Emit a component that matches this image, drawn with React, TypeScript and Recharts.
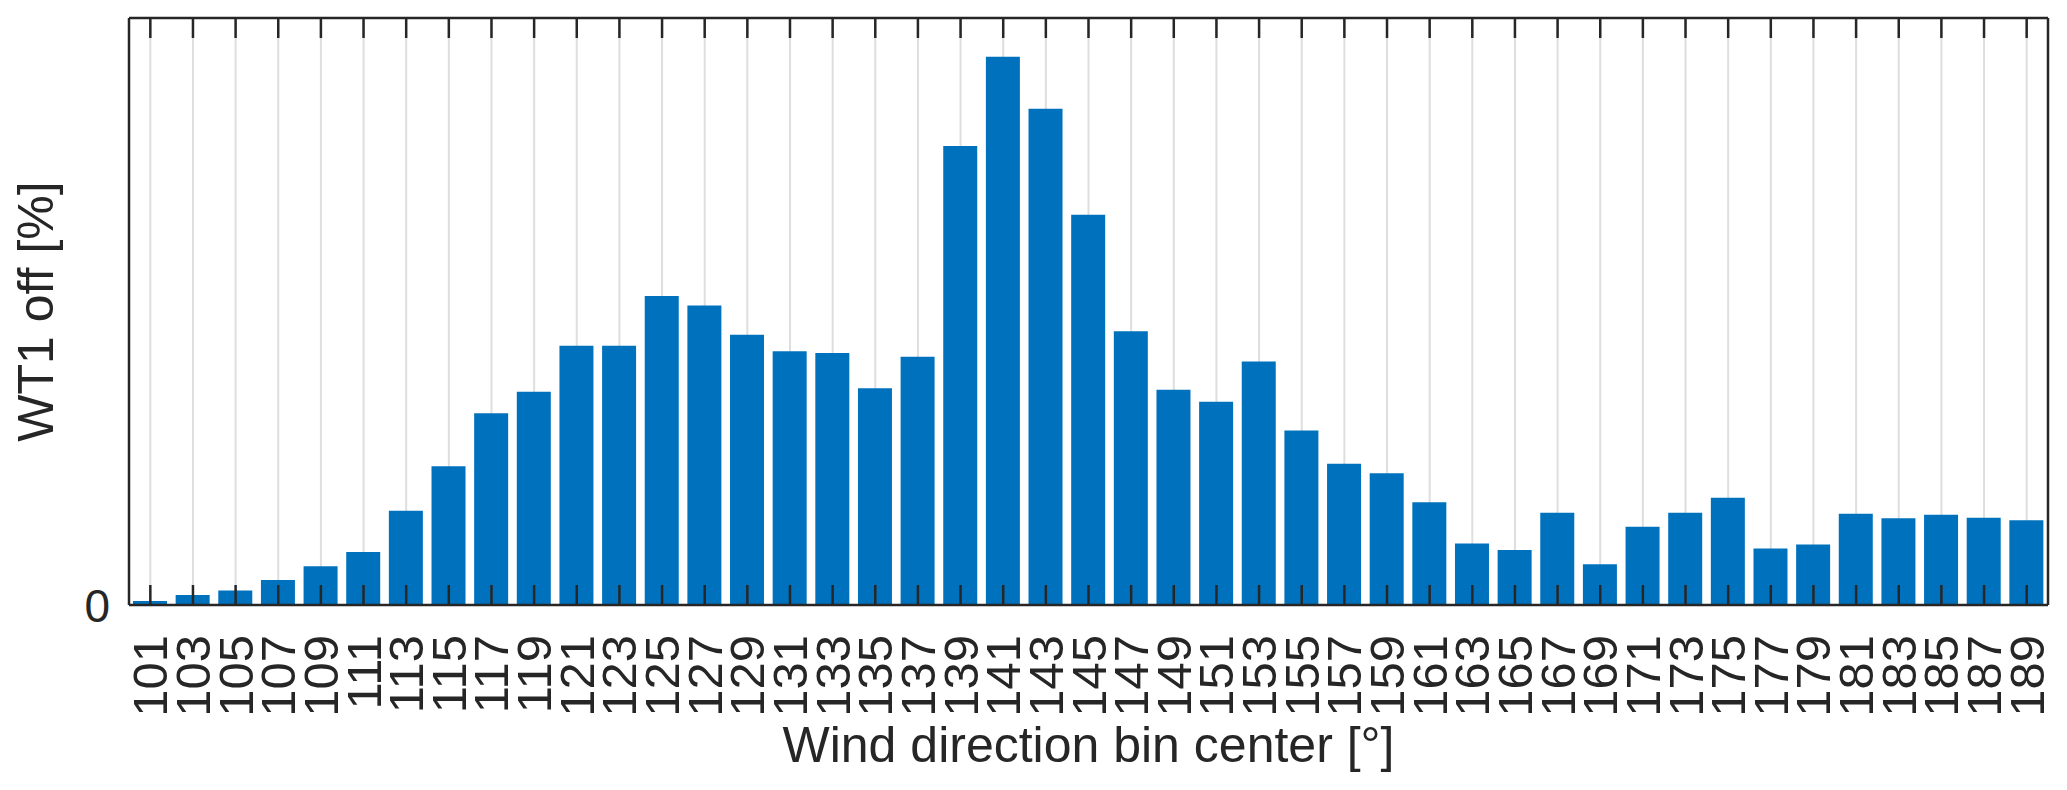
import React from "react";
import { Bar, BarChart, CartesianGrid, Label, XAxis, YAxis } from "recharts";

const windDirectionBins = [
  "101", "103", "105", "107", "109", "111", "113", "115", "117", "119",
  "121", "123", "125", "127", "129", "131", "133", "135", "137", "139",
  "141", "143", "145", "147", "149", "151", "153", "155", "157", "159",
  "161", "163", "165", "167", "169", "171", "173", "175", "177", "179",
  "181", "183", "185", "187", "189",
];

const wt1OffPercent = [
  0.03, 0.076, 0.11, 0.19, 0.294, 0.4, 0.713, 1.049, 1.45, 1.613,
  1.96, 1.96, 2.338, 2.266, 2.044, 1.919, 1.907, 1.64, 1.877, 3.471,
  4.146, 3.753, 2.952, 2.071, 1.629, 1.537, 1.842, 1.32, 1.068, 0.996,
  0.778, 0.465, 0.416, 0.698, 0.309, 0.591, 0.698, 0.812, 0.427, 0.458,
  0.69, 0.656, 0.683, 0.66, 0.641,
];

const yTicks = [0];
const yDomain = [0, 4.44];

const data = windDirectionBins.map((bin, i) => ({ bin, value: wt1OffPercent[i] }));

const INK = "#262626";
const FONT = '"Liberation Sans", Arial, Helvetica, sans-serif';

function BottomTick(props: any) {
  const { x, y, payload } = props;
  return (
    <g>
      <line x1={x} y1={y} x2={x} y2={y - 20} stroke={INK} strokeWidth={2.5} />
      <text
        transform={`translate(${x + 17},${y + 30}) rotate(-90)`}
        textAnchor="end"
        fontSize={49}
        fill={INK}
        fontFamily={FONT}
      >
        {payload.value}
      </text>
    </g>
  );
}

function TopTick(props: any) {
  const { x, y } = props;
  return <line x1={x} y1={y} x2={x} y2={y + 20} stroke={INK} strokeWidth={2.5} />;
}

function LeftTick(props: any) {
  const { x, y, payload } = props;
  return (
    <text x={x - 19} y={y + 17} textAnchor="end" fontSize={46} fill={INK} fontFamily={FONT}>
      {payload.value}
    </text>
  );
}

export default function App() {
  return (
    <div
      style={{
        position: "absolute",
        left: 0,
        top: 0,
        width: 2067,
        height: 790,
        background: "#fff",
        fontFamily: FONT,
      }}
    >
      <BarChart
        width={2067}
        height={790}
        data={data}
        margin={{ top: 17, right: 18, bottom: 0, left: 0 }}
        barCategoryGap={0}
      >
        <CartesianGrid vertical horizontal={false} stroke="#dedede" strokeWidth={2} />
        <XAxis
          dataKey="bin"
          height={185}
          interval={0}
          tickLine={false}
          tickSize={0}
          tickMargin={0}
          axisLine={{ stroke: INK, strokeWidth: 2.5 }}
          tick={<BottomTick />}
        >
          <Label
            content={({ viewBox }: any) => (
              <text
                x={viewBox.x + viewBox.width / 2}
                y={viewBox.y + 157}
                textAnchor="middle"
                fontSize={50}
                fill={INK}
                fontFamily={FONT}
              >
                Wind direction bin center [°]
              </text>
            )}
          />
        </XAxis>
        <XAxis
          xAxisId="top"
          dataKey="bin"
          orientation="top"
          height={1}
          interval={0}
          tickLine={false}
          tickSize={0}
          tickMargin={0}
          axisLine={{ stroke: INK, strokeWidth: 2.5 }}
          tick={<TopTick />}
        />
        <YAxis
          width={129}
          domain={yDomain}
          ticks={yTicks}
          tickLine={false}
          tickSize={0}
          tickMargin={0}
          axisLine={{ stroke: INK, strokeWidth: 2.5 }}
          tick={<LeftTick />}
        >
          <Label
            content={({ viewBox }: any) => (
              <text
                transform={`translate(${viewBox.x + 53},${viewBox.y + viewBox.height / 2}) rotate(-90)`}
                textAnchor="middle"
                fontSize={50}
                fill={INK}
                fontFamily={FONT}
              >
                WT1 off [%]
              </text>
            )}
          />
        </YAxis>
        <YAxis
          yAxisId="right"
          orientation="right"
          width={1}
          domain={yDomain}
          tick={false}
          tickLine={false}
          axisLine={{ stroke: INK, strokeWidth: 2.5 }}
        />
        <Bar dataKey="value" fill="#0072BD" barSize={34} isAnimationActive={false} />
      </BarChart>
    </div>
  );
}
